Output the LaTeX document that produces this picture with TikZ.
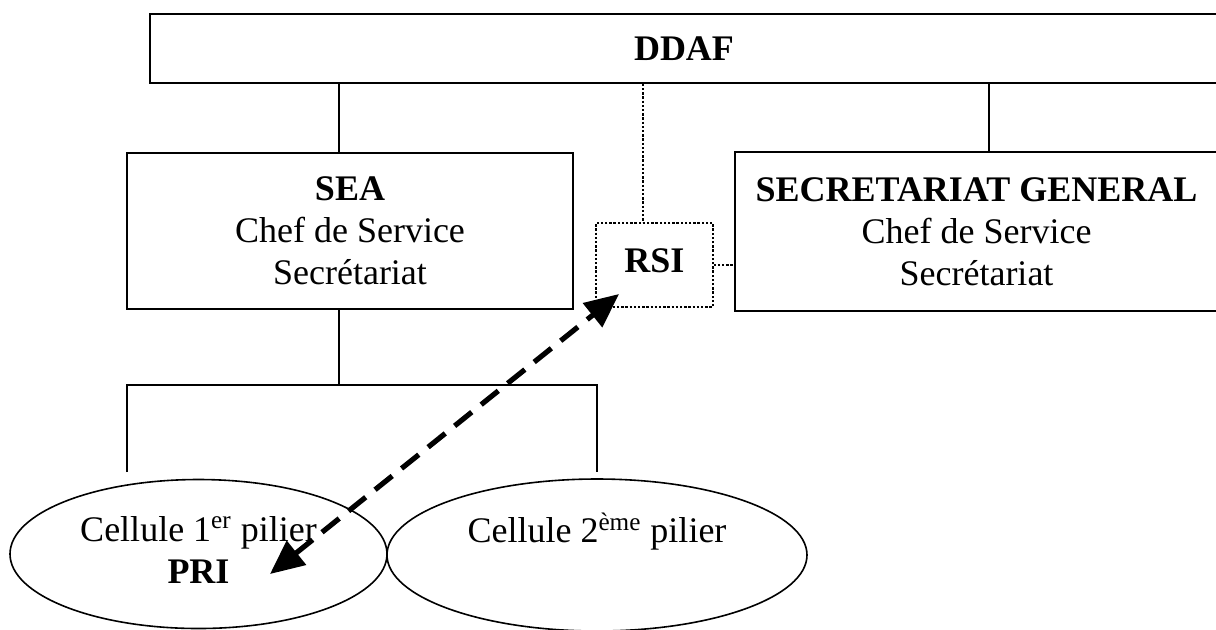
\documentclass[tikz,border=0pt]{standalone}
\usepackage{fontspec}
\setmainfont{Liberation Serif}
\usetikzlibrary{arrows.meta,shapes.geometric}
\begin{document}
\begin{tikzpicture}[x=0.5pt,y=-0.5pt,
  txt/.style={font=\fontsize{18}{21}\selectfont, align=center},
  box/.style={txt, draw, line width=0.8pt, inner sep=0pt},
  cell/.style={txt, draw, ellipse, line width=0.8pt, inner sep=0pt},
  link/.style={line width=0.55pt},
  dotlink/.style={line width=0.6pt, dash pattern=on 1.2pt off 0.9pt},
  relation/.style={line width=2.6pt, dash pattern=on 11pt off 6pt,
    {Triangle[length=17pt,width=15pt]}-{Triangle[length=17pt,width=15pt]}}]
\useasboundingbox (0,0) rectangle (1216,629);
\clip (0,0) rectangle (1216,629);

% boxes of the organisation chart
\node[box, minimum width=534pt, minimum height=34.5pt] (ddaf) at (684,48.5) {\textbf{DDAF}};
\node[box, minimum width=223pt, minimum height=78pt] (sea) at (350,231)
  {\textbf{SEA}\\Chef de Service\\Secrétariat};
\node[box, minimum width=241.5pt, minimum height=79.5pt] (sg) at (976.5,231.5)
  {\textbf{SECRETARIAT GENERAL}\\Chef de Service\\Secrétariat};
\node[box, dotlink, minimum width=58.5pt, minimum height=42pt] (rsi) at (654.5,265)
  {\raisebox{4pt}{\textbf{RSI}}};

% the two cells
\node[cell, minimum width=188.5pt, minimum height=74.5pt] (c1) at (198.5,554)
  {\strut Cellule 1\textsuperscript{er} pilier\\\strut\textbf{PRI}};
\node[cell, minimum width=210pt, minimum height=76pt] (c2) at (597,555)
  {\strut Cellule 2\textsuperscript{ème} pilier\\\strut};

% drop points of the connectors
\coordinate (xsea) at (339,0);
\coordinate (xrsi) at (643,0);
\coordinate (xsg) at (989,0);
\coordinate (bl) at (127,385);
\coordinate (br) at (597,385);
\coordinate (bl0) at (127,472);
\coordinate (br0) at (597,472);
\coordinate (tippri) at (270,574);
\coordinate (tiprsi) at (619,294);

\draw[link] (ddaf.south -| xsea) -- (sea.north -| xsea);
\draw[link] (ddaf.south -| xsg) -- (sg.north -| xsg);
\draw[dotlink] (ddaf.south -| xrsi) -- (rsi.north -| xrsi);
\draw[dotlink] (rsi.east) -- (sg.west |- rsi.east);
\draw[link] (sea.south -| xsea) -- (bl -| xsea);
\draw[link] (bl0) -- (bl) -- (br) -- (br0);

% functional relation between PRI and RSI
\draw[relation] (tippri) -- (tiprsi);
\end{tikzpicture}
\end{document}
